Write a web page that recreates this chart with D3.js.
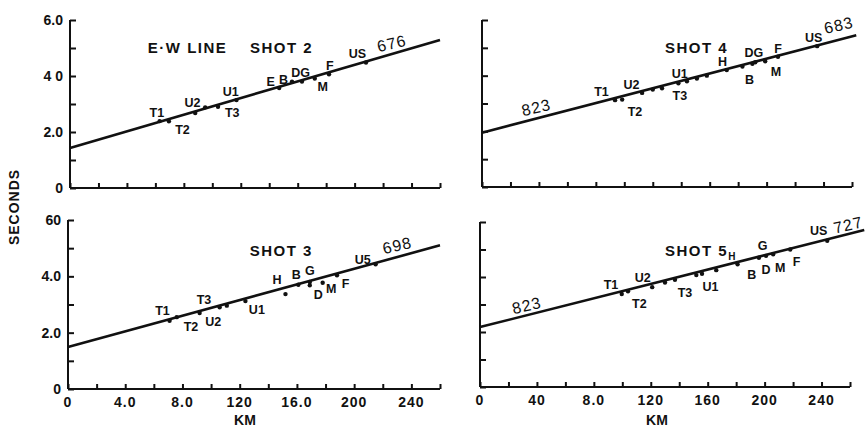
<!DOCTYPE html>
<html>
<head>
<meta charset="utf-8">
<script src="https://cdn.jsdelivr.net/npm/d3@7"></script>
<style>
body { margin: 0; background: #fff; }
svg { display: block; }
text { font-family: "Liberation Sans", Arial, sans-serif; fill: #111; }
</style>
</head>
<body>
<svg id="chart" width="868" height="432"></svg>
<script>
// axis ticks and labels
const kmTicks = [0, 20, 40, 60, 80, 100, 120, 140, 160, 180, 200, 220, 240, 260];
const secTicks = [0, 1, 2, 3, 4, 5, 6];
const secLabeled = [0, 2, 4, 6];
const kmLabeled = [0, 40, 80, 120, 160, 200, 240];
const secLabelsTop = ["0", "2.0", "4 0", "6.0"];
const secLabelsBottom = ["0", "2.0", "4.0", "60"];
const kmLabelsShot3 = ["0", "4.0", "8.0", "120", "16.0", "200", "240"];
const kmLabelsShot5 = ["0", "40", "8.0", "120", "160", "200", "240"];

// fitted lines: [km, seconds] at both ends
const shot2Line = [[0, 1.43], [260, 5.29]];
const shot4Line = [[0, 1.95], [263, 5.45]];
const shot3Line = [[0, 1.49], [260, 5.1]];
const shot5Line = [[0, 2.18], [270, 5.71]];

// station readings: [km, seconds]
const shot2Points = [[63, 2.39], [69.5, 2.38], [88, 2.68], [95, 2.88], [104, 2.9], [117, 3.14],
  [147, 3.57], [156, 3.8], [163, 3.8], [172, 3.91], [182, 4.06], [208, 4.48]];
const shot4Points = [[93.5, 3.12], [98.5, 3.14], [112.5, 3.38], [120, 3.5], [126.5, 3.55],
  [138, 3.73], [144, 3.8], [151, 3.9], [158, 4.0], [172, 4.2], [183, 4.33], [190, 4.43],
  [192, 4.48], [199, 4.52], [208, 4.68], [235.5, 5.06]];
const shot3Points = [[71, 2.42], [76, 2.55], [92, 2.7], [106, 2.9], [111, 2.96], [124, 3.12],
  [152, 3.37], [161, 3.7], [169, 3.8], [169, 3.68], [178, 3.77], [188, 4.04], [215, 4.43]];
const shot5Points = [[99.6, 3.38], [104, 3.48], [121, 3.63], [130, 3.8], [137, 3.9],
  [152, 4.07], [156, 4.12], [166, 4.25], [181, 4.46], [196, 4.7], [201, 4.77], [206, 4.83],
  [218, 5.0], [244, 5.32]];

// station names: [text, km, seconds] at label centre
const shot2Labels = [["T1", 61, 2.71], ["T2", 79, 2.1], ["U2", 86, 3.07], ["T3", 114, 2.68],
  ["U1", 113, 3.43], ["E", 141, 3.79], ["B", 150, 3.89], ["DG", 162, 4.14], ["F", 182.5, 4.36],
  ["M", 177.5, 3.61], ["US", 202, 4.8]];
const shot4Labels = [["T1", 84, 3.42], ["U2", 105, 3.68], ["T2", 107.5, 2.73], ["U1", 139, 4.08],
  ["T3", 139, 3.27], ["H", 169, 4.5], ["DG", 191, 4.82], ["B", 188, 3.88], ["F", 208, 4.98],
  ["M", 206.6, 4.14], ["US", 233, 5.38]];
const shot3Labels = [["T1", 66, 2.8], ["T3", 95, 3.16], ["T2", 86, 2.23], ["U2", 101.5, 2.41],
  ["U1", 132, 2.84], ["H", 146, 3.9], ["B", 159.5, 4.05], ["G", 169, 4.2], ["D", 175, 3.37],
  ["M", 184, 3.58], ["F", 194, 3.76], ["U5", 206, 4.6]];
const shot5Labels = [["T1", 92, 3.72], ["U2", 114.4, 4.0], ["T2", 112, 3.05], ["T3", 144, 3.45],
  ["U1", 162, 3.64], ["G", 198.6, 5.15], ["B", 191, 4.1], ["D", 201, 4.29], ["M", 211, 4.36],
  ["F", 222.5, 4.58], ["US", 238, 5.68]];

// velocity notes: [text, km, seconds]
const shot2Notes = [["676", 227, 5.15]];
const shot4Notes = [["823", 39, 2.84], ["683", 251.6, 5.8]];
const shot3Notes = [["698", 231, 5.08]];
const shot5Notes = [["823", 33.7, 2.95], ["727", 259.6, 5.88]];

const panels = [
  { title: "E\u00b7W LINE\u00a0\u00a0\u00a0 SHOT 2", titleAt: [54.7, 5.02], line: shot2Line, points: shot2Points,
    labels: shot2Labels, notes: shot2Notes, xr: [70, 440], yr: [188, 20], secLabels: secLabelsTop },
  { title: "SHOT 4", titleAt: [128.6, 5.04], line: shot4Line, points: shot4Points,
    labels: shot4Labels, notes: shot4Notes, xr: [482, 852], yr: [187, 20] },
  { title: "SHOT 3", titleAt: [127, 4.93], line: shot3Line, points: shot3Points,
    labels: shot3Labels, notes: shot3Notes, xr: [68, 440], yr: [389, 220],
    secLabels: secLabelsBottom, kmLabels: kmLabelsShot3 },
  { title: "SHOT 5", sub: "H", titleAt: [130, 4.98], line: shot5Line, points: shot5Points,
    labels: shot5Labels, notes: shot5Notes, xr: [480, 850], yr: [387, 222], kmLabels: kmLabelsShot5 }
];

const svg = d3.select("#chart");

panels.forEach(p => {
  const x = d3.scaleLinear().domain([0, 260]).range(p.xr);
  const y = d3.scaleLinear().domain([0, 6]).range(p.yr);
  const g = svg.append("g");

  // y axis with inward ticks
  g.append("g")
    .attr("transform", `translate(${p.xr[0]},0)`)
    .call(d3.axisRight(y).tickValues(secTicks).tickSize(6).tickFormat(""))
    .call(a => a.select(".domain").attr("d", `M0,${p.yr[0]}V${p.yr[1]}`));
  // x axis with upward ticks
  g.append("g")
    .attr("transform", `translate(0,${p.yr[0]})`)
    .call(d3.axisTop(x).tickValues(kmTicks).tickSize(5).tickFormat(""))
    .call(a => a.select(".domain").attr("d", `M${p.xr[0]},0H${p.xr[1]}`));
  g.selectAll(".domain, .tick line").attr("stroke", "#111").attr("stroke-width", 2);

  if (p.secLabels) {
    g.selectAll(".ylab").data(secLabeled).join("text")
      .attr("x", p.xr[0] - 7).attr("y", d => y(d) + 5)
      .attr("text-anchor", "end").attr("font-size", 14).attr("font-weight", "bold")
      .text((d, i) => p.secLabels[i]);
  }
  if (p.kmLabels) {
    g.selectAll(".xlab").data(kmLabeled).join("text")
      .attr("x", d => x(d)).attr("y", p.yr[0] + 18)
      .attr("text-anchor", "middle").attr("font-size", 14).attr("font-weight", "bold")
      .attr("letter-spacing", 1)
      .text((d, i) => p.kmLabels[i]);
  }

  // travel-time line
  const ln = d3.line().x(d => x(d[0])).y(d => y(d[1]));
  g.append("path").datum(p.line).attr("d", ln)
    .attr("fill", "none").attr("stroke", "#111").attr("stroke-width", 2.6);

  g.selectAll(".pt").data(p.points).join("circle")
    .attr("cx", d => x(d[0])).attr("cy", d => y(d[1])).attr("r", 2.2).attr("fill", "#111");

  g.selectAll(".lab").data(p.labels).join("text")
    .attr("x", d => x(d[1])).attr("y", d => y(d[2]) + 4.5)
    .attr("text-anchor", "middle").attr("font-size", 12.5).attr("font-weight", "bold")
    .text(d => d[0]);

  p.notes.forEach(n => {
    g.append("text")
      .attr("transform", `translate(${x(n[1])},${y(n[2]) + 5}) rotate(-13)`)
      .attr("text-anchor", "middle").attr("font-size", 16).attr("letter-spacing", 1)
      .text(n[0]);
  });

  const t = g.append("text")
    .attr("x", x(p.titleAt[0])).attr("y", y(p.titleAt[1]) + 6)
    .attr("font-size", 15).attr("font-weight", "bold").attr("letter-spacing", 1.5)
    .style("white-space", "pre")
    .text(p.title);
  if (p.sub) t.append("tspan").attr("font-size", 10).attr("dy", 4).text(p.sub);
});

svg.append("text")
  .attr("transform", "translate(19,207) rotate(-90)")
  .attr("text-anchor", "middle").attr("font-size", 14).attr("font-weight", "bold")
  .attr("letter-spacing", 1).text("SECONDS");
svg.append("text").attr("x", 245).attr("y", 425)
  .attr("text-anchor", "middle").attr("font-size", 14).attr("font-weight", "bold").text("KM");
svg.append("text").attr("x", 657).attr("y", 425)
  .attr("text-anchor", "middle").attr("font-size", 14).attr("font-weight", "bold").text("KM");
</script>
</body>
</html>
